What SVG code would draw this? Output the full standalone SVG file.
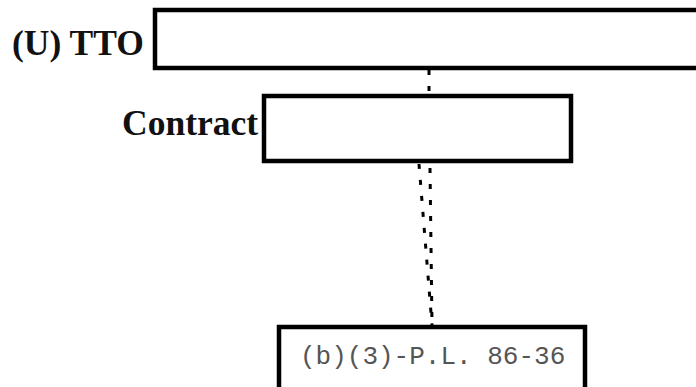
<svg xmlns="http://www.w3.org/2000/svg" width="696" height="387" viewBox="0 0 696 387">
<style>
.box{fill:#fff;stroke:#000;stroke-width:4.5}
.lbl{font-family:"Liberation Serif","Times New Roman",serif;font-weight:bold;font-size:35.5px;fill:#111}
.mono{font-family:"Liberation Mono","Courier New",monospace;font-size:26px;fill:#555}
.dot{fill:none;stroke:#000;stroke-width:3;stroke-dasharray:5 11}
</style>
<rect width="696" height="387" fill="#fff"/>
<g id="connectors">
<line class="dot" x1="429" y1="70" x2="429" y2="94"/>
<line class="dot" x1="419" y1="164" x2="432" y2="325"/>
<line class="dot" x1="430" y1="168" x2="432" y2="325"/>
</g>
<g id="tto">
<rect class="box" x="155" y="10" width="600" height="58"/>
<text class="lbl" x="12" y="55">(U) TTO</text>
</g>
<g id="contract">
<rect class="box" x="264" y="96" width="307" height="65"/>
<text class="lbl" x="122" y="135">Contract</text>
</g>
<g id="pl">
<rect class="box" x="279" y="327" width="306" height="100"/>
<text class="mono" x="300" y="364">(b)(3)-P.L. 86-36</text>
</g>
</svg>
